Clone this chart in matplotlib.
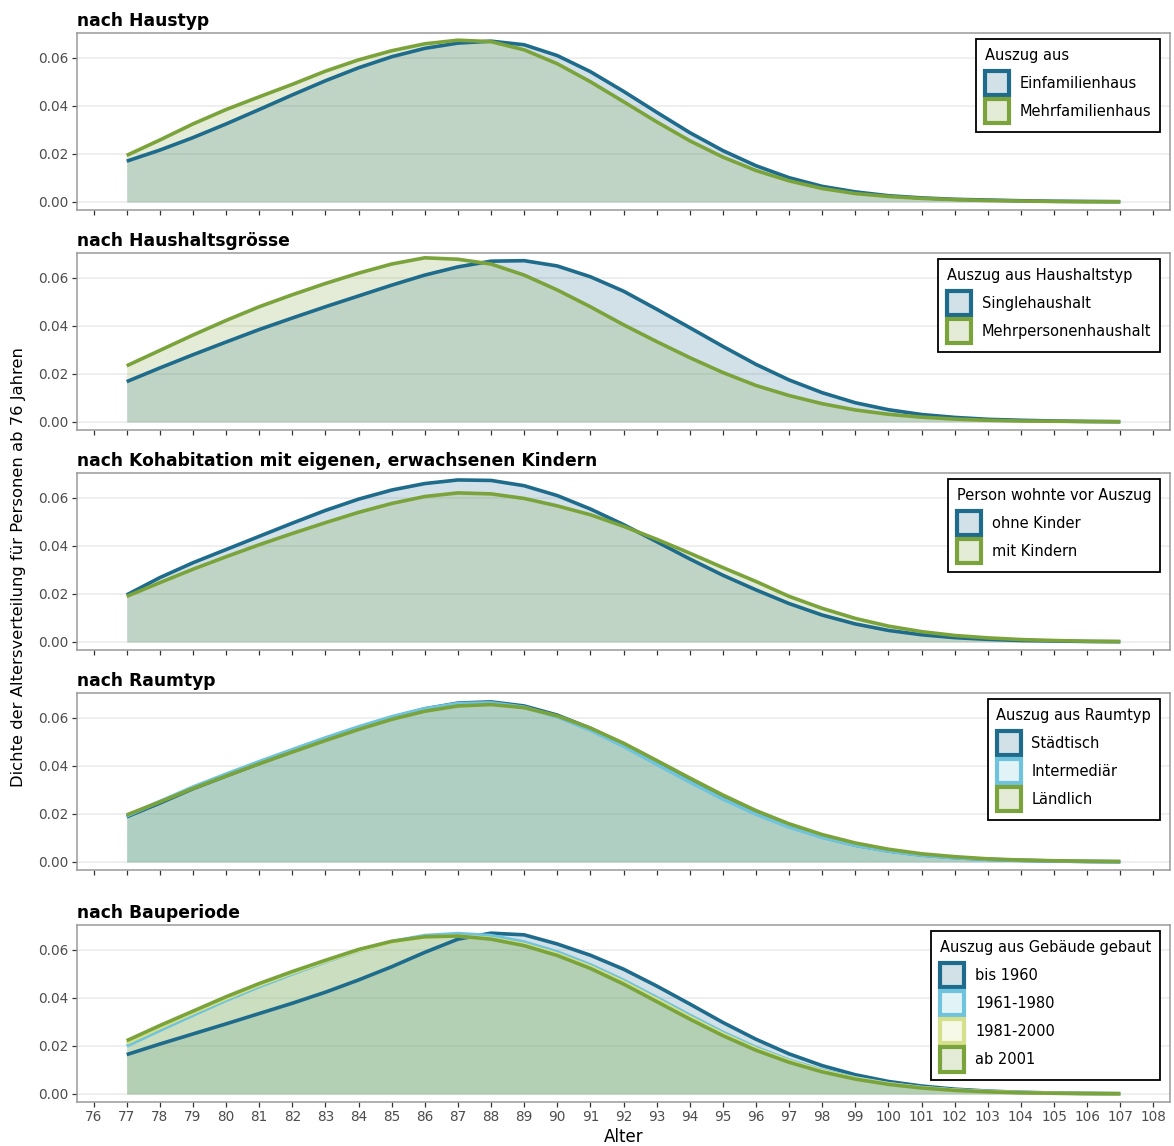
import matplotlib
matplotlib.use("Agg")
import matplotlib.pyplot as plt
from matplotlib.patches import Patch
from matplotlib.colors import to_rgb
from matplotlib.ticker import FormatStrFormatter
import numpy as np

ages = np.arange(77, 108)

# nach Haustyp
einfamilienhaus = [0.0170, 0.0216, 0.0268, 0.0325, 0.0385, 0.0446, 0.0505, 0.0559, 0.0605, 0.0640, 0.0662,
                   0.0670, 0.0655, 0.0610, 0.0543, 0.0461, 0.0374, 0.0289, 0.0214, 0.0151, 0.0101, 0.0065,
                   0.0042, 0.0026, 0.0017, 0.0011, 0.0008, 0.0005, 0.0003, 0.0002, 0.0001]
mehrfamilienhaus = [0.0194, 0.0258, 0.0325, 0.0385, 0.0438, 0.0490, 0.0545, 0.0592, 0.0630, 0.0659, 0.0674,
                    0.0668, 0.0634, 0.0576, 0.0501, 0.0418, 0.0334, 0.0255, 0.0187, 0.0131, 0.0088, 0.0056,
                    0.0035, 0.0023, 0.0015, 0.0010, 0.0006, 0.0004, 0.0002, 0.0001, 0.0001]

# nach Haushaltsgroesse
singlehaushalt = [0.0168, 0.0225, 0.0280, 0.0333, 0.0385, 0.0433, 0.0480, 0.0525, 0.0570, 0.0612, 0.0646,
                  0.0670, 0.0672, 0.0650, 0.0605, 0.0545, 0.0470, 0.0393, 0.0315, 0.0240, 0.0175, 0.0122,
                  0.0080, 0.0051, 0.0031, 0.0019, 0.0011, 0.0007, 0.0004, 0.0002, 0.0001]
mehrpersonenhaushalt = [0.0234, 0.0298, 0.0362, 0.0423, 0.0480, 0.0530, 0.0577, 0.0620, 0.0658, 0.0684, 0.0678,
                        0.0658, 0.0612, 0.0550, 0.0480, 0.0405, 0.0335, 0.0268, 0.0206, 0.0152, 0.0110, 0.0076,
                        0.0050, 0.0032, 0.0020, 0.0012, 0.0007, 0.0004, 0.0003, 0.0002, 0.0001]

# nach Kohabitation
ohne_kinder = [0.0196, 0.0268, 0.0330, 0.0385, 0.0440, 0.0495, 0.0548, 0.0595, 0.0633, 0.0660, 0.0675,
               0.0673, 0.0651, 0.0610, 0.0554, 0.0489, 0.0418, 0.0346, 0.0278, 0.0217, 0.0160, 0.0112,
               0.0075, 0.0048, 0.0030, 0.0018, 0.0011, 0.0006, 0.0004, 0.0002, 0.0001]
mit_kindern = [0.0190, 0.0247, 0.0303, 0.0355, 0.0405, 0.0452, 0.0497, 0.0540, 0.0577, 0.0606, 0.0621,
               0.0617, 0.0598, 0.0567, 0.0530, 0.0482, 0.0428, 0.0370, 0.0310, 0.0252, 0.0190, 0.0140,
               0.0098, 0.0066, 0.0043, 0.0027, 0.0017, 0.0010, 0.0006, 0.0003, 0.0002]

# nach Raumtyp
staedtisch = [0.0188, 0.0245, 0.0305, 0.0358, 0.0410, 0.0460, 0.0510, 0.0558, 0.0602, 0.0638, 0.0662,
              0.0667, 0.0650, 0.0612, 0.0557, 0.0490, 0.0415, 0.0340, 0.0268, 0.0203, 0.0148, 0.0104,
              0.0070, 0.0046, 0.0029, 0.0018, 0.0011, 0.0007, 0.0004, 0.0002, 0.0001]
intermediaer = [0.0192, 0.0252, 0.0312, 0.0366, 0.0418, 0.0468, 0.0517, 0.0563, 0.0605, 0.0639, 0.0660,
                0.0663, 0.0645, 0.0605, 0.0549, 0.0482, 0.0407, 0.0333, 0.0262, 0.0199, 0.0145, 0.0102,
                0.0069, 0.0045, 0.0028, 0.0017, 0.0011, 0.0006, 0.0004, 0.0002, 0.0001]
laendlich = [0.0196, 0.0250, 0.0306, 0.0358, 0.0409, 0.0458, 0.0506, 0.0552, 0.0594, 0.0628, 0.0650,
             0.0656, 0.0643, 0.0609, 0.0558, 0.0495, 0.0423, 0.0350, 0.0279, 0.0214, 0.0159, 0.0114,
             0.0079, 0.0053, 0.0034, 0.0022, 0.0013, 0.0008, 0.0005, 0.0003, 0.0002]

# nach Bauperiode
bis_1960 = [0.0164, 0.0208, 0.0250, 0.0292, 0.0335, 0.0378, 0.0424, 0.0475, 0.0530, 0.0590, 0.0645,
            0.0670, 0.0663, 0.0625, 0.0578, 0.0520, 0.0450, 0.0375, 0.0298, 0.0228, 0.0167, 0.0118,
            0.0080, 0.0052, 0.0033, 0.0020, 0.0012, 0.0007, 0.0004, 0.0002, 0.0001]
b1961_1980 = [0.0200, 0.0265, 0.0328, 0.0390, 0.0447, 0.0500, 0.0550, 0.0597, 0.0635, 0.0660, 0.0668,
              0.0660, 0.0633, 0.0592, 0.0538, 0.0474, 0.0402, 0.0328, 0.0257, 0.0194, 0.0141, 0.0099,
              0.0067, 0.0043, 0.0027, 0.0016, 0.0010, 0.0006, 0.0003, 0.0002, 0.0001]
b1981_2000 = [0.0212, 0.0276, 0.0338, 0.0398, 0.0454, 0.0505, 0.0553, 0.0598, 0.0633, 0.0654, 0.0658,
              0.0648, 0.0623, 0.0583, 0.0530, 0.0466, 0.0394, 0.0320, 0.0250, 0.0188, 0.0137, 0.0096,
              0.0065, 0.0042, 0.0026, 0.0016, 0.0010, 0.0006, 0.0003, 0.0002, 0.0001]
ab_2001 = [0.0222, 0.0285, 0.0345, 0.0405, 0.0460, 0.0510, 0.0557, 0.0602, 0.0636, 0.0655, 0.0658,
           0.0645, 0.0618, 0.0577, 0.0523, 0.0458, 0.0385, 0.0312, 0.0243, 0.0182, 0.0132, 0.0092,
           0.0062, 0.0040, 0.0025, 0.0015, 0.0009, 0.0005, 0.0003, 0.0002, 0.0001]

DARKBLUE = "#1f6b8c"
LIGHTBLUE = "#6fc3dc"
YELLOW = "#d4e08c"
GREEN = "#7ba33b"

panels = [
    ("nach Haustyp", "Auszug aus",
     [("Einfamilienhaus", einfamilienhaus, DARKBLUE), ("Mehrfamilienhaus", mehrfamilienhaus, GREEN)]),
    ("nach Haushaltsgrösse", "Auszug aus Haushaltstyp",
     [("Singlehaushalt", singlehaushalt, DARKBLUE), ("Mehrpersonenhaushalt", mehrpersonenhaushalt, GREEN)]),
    ("nach Kohabitation mit eigenen, erwachsenen Kindern", "Person wohnte vor Auszug",
     [("ohne Kinder", ohne_kinder, DARKBLUE), ("mit Kindern", mit_kindern, GREEN)]),
    ("nach Raumtyp", "Auszug aus Raumtyp",
     [("Städtisch", staedtisch, DARKBLUE), ("Intermediär", intermediaer, LIGHTBLUE), ("Ländlich", laendlich, GREEN)]),
    ("nach Bauperiode", "Auszug aus Gebäude gebaut",
     [("bis 1960", bis_1960, DARKBLUE), ("1961-1980", b1961_1980, LIGHTBLUE),
      ("1981-2000", b1981_2000, YELLOW), ("ab 2001", ab_2001, GREEN)]),
]

W, H = 1174, 1146
left_px, right_px = 77, 1170
# top / bottom of each panel in pixels
boxes = [(33, 210), (253, 430), (473, 650), (693, 870), (925, 1102)]

fig = plt.figure(figsize=(W / 100, H / 100), dpi=100)

for i, (title, legtitle, series) in enumerate(panels):
    top, bot = boxes[i]
    ax = fig.add_axes([left_px / W, 1 - bot / H, (right_px - left_px) / W, (bot - top) / H])

    for label, vals, col in series:
        ax.fill_between(ages, vals, 0, color=col, alpha=0.2, lw=0)
        ax.plot(ages, vals, color=col, lw=2.6, solid_capstyle="butt")

    ax.set_xlim(75.5, 108.5)
    ax.set_ylim(-0.00335, 0.0704)
    ax.set_xticks(range(76, 109))
    ax.set_yticks([0, 0.02, 0.04, 0.06])
    ax.yaxis.set_major_formatter(FormatStrFormatter("%.2f"))
    ax.yaxis.grid(True, color="#ebebeb", lw=1.1)
    ax.set_axisbelow(True)
    ax.tick_params(length=3.5, width=0.9, color="#333333", labelcolor="#4d4d4d", labelsize=9.8, pad=2.5)
    if i < len(panels) - 1:
        ax.tick_params(axis="x", labelbottom=False)
    for s in ax.spines.values():
        s.set_color("#9a9a9a")
        s.set_linewidth(1.1)

    ax.set_title(title, loc="left", fontsize=12.3, fontweight="bold", pad=5)

    handles = [Patch(facecolor=(*to_rgb(c), 0.2), edgecolor=c, linewidth=3, joinstyle="round", label=l)
               for l, v, c in series]
    leg = ax.legend(handles=handles, title=legtitle, loc="upper right",
                    bbox_to_anchor=(1 - 10 / (right_px - left_px), 1 - 6 / (bot - top)),
                    borderaxespad=0, fancybox=False, edgecolor="black", framealpha=1,
                    fontsize=10.5, title_fontsize=10.5, handlelength=1.65, handleheight=2.16,
                    labelspacing=0.28, handletextpad=0.75, borderpad=0.6, alignment="left")
    leg._legend_box.sep = 6
    leg.get_frame().set_linewidth(1.3)

fig.text(0.016, 0.505, "Dichte der Altersverteilung für Personen ab 76 Jahren", rotation=90,
         ha="center", va="center", fontsize=11.8)
fig.text((left_px + right_px) / 2 / W, 0.008, "Alter", ha="center", va="center", fontsize=12)

fig.savefig("out.png", dpi=100)
